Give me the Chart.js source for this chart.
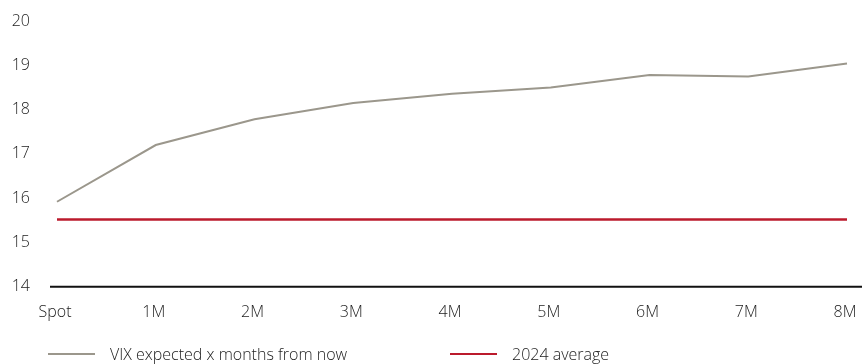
<!DOCTYPE html>
<html>
<head>
<meta charset="utf-8">
<script src="https://cdn.jsdelivr.net/npm/chart.js@4"></script>
<style>
  html, body { margin: 0; padding: 0; background: #fff; }
  #wrap { position: relative; width: 863px; height: 364px; }
  #legend { position: absolute; left: 0; top: 343px; height: 22px; width: 863px;
            font-family: 'Open Sans', 'Noto Sans', sans-serif; font-weight: 300; font-size: 16px; color: #222; }
  .item { position: absolute; top: 0; display: flex; align-items: center; height: 22px; }
  .swatch { display: inline-block; width: 47px; margin-right: 15px; }
</style>
</head>
<body>
<div id="wrap">
  <canvas id="vixChart"></canvas>
  <div id="legend"></div>
</div>
<script>
// ===== Data =====
const horizons = ['Spot', '1M', '2M', '3M', '4M', '5M', '6M', '7M', '8M'];
const vixExpected = [15.92, 17.2, 17.78, 18.15, 18.36, 18.5, 18.78, 18.75, 19.04];
const avg2024 = [15.52, 15.52, 15.52, 15.52, 15.52, 15.52, 15.52, 15.52, 15.52];
const yTicks = [14, 15, 16, 17, 18, 19, 20];

const FONT = "'Open Sans', 'Noto Sans', sans-serif";

// black base line under the chart, a bit wider than the plot area
const baseLine = {
  id: 'baseLine',
  beforeDatasetsDraw(chart) {
    const { ctx, chartArea, scales } = chart;
    const y = scales.y.getPixelForValue(yTicks[0]);
    ctx.save();
    ctx.strokeStyle = '#111';
    ctx.lineWidth = 2;
    ctx.beginPath();
    ctx.moveTo(chartArea.left - 7, y);
    ctx.lineTo(chartArea.right + 15, y);
    ctx.stroke();
    ctx.restore();
  }
};

const ctx = document.getElementById('vixChart').getContext('2d');
const chart = new Chart(ctx, {
  type: 'line',
  data: {
    labels: horizons,
    datasets: [{
      label: 'VIX expected x months from now',
      data: vixExpected,
      borderColor: '#9b978c',
      backgroundColor: '#9b978c',
      borderWidth: 2,
      pointRadius: 0,
      tension: 0
    }, {
      label: '2024 average',
      data: avg2024,
      borderColor: '#bb1a2c',
      backgroundColor: '#bb1a2c',
      borderWidth: 2.5,
      pointRadius: 0
    }]
  },
  options: {
    responsive: true,
    maintainAspectRatio: false,
    animation: false,
    layout: {
      padding: { top: 21, right: 16, bottom: 40, left: 0 }
    },
    plugins: {
      legend: { display: false },
      tooltip: { enabled: false }
    },
    scales: {
      x: {
        // invisible tick marks used as spacing between axis and labels
        grid: { display: false, drawTicks: true, tickLength: 14 },
        border: { display: false },
        ticks: {
          color: '#222',
          padding: 2,
          labelOffset: -2,
          maxRotation: 0,
          font: { family: FONT, size: 16, weight: 300 }
        }
      },
      y: {
        min: 14,
        max: 20,
        afterBuildTicks(scale) {
          scale.ticks = yTicks.map(v => ({ value: v }));
        },
        afterFit(scale) {
          scale.width = 57;
        },
        grid: { display: false, drawTicks: true, tickLength: 27 },
        border: { display: false },
        ticks: {
          color: '#222',
          padding: 0,
          font: { family: FONT, size: 16, weight: 300 }
        }
      }
    }
  },
  plugins: [baseLine]
});

// ===== HTML legend =====
const legendPos = [48, 450];
document.getElementById('legend').innerHTML = chart.data.datasets.map((ds, i) =>
  `<div class="item" style="left:${legendPos[i]}px">` +
  `<span class="swatch" style="border-top:2px solid ${ds.borderColor}"></span>${ds.label}</div>`
).join('');
</script>
</body>
</html>
